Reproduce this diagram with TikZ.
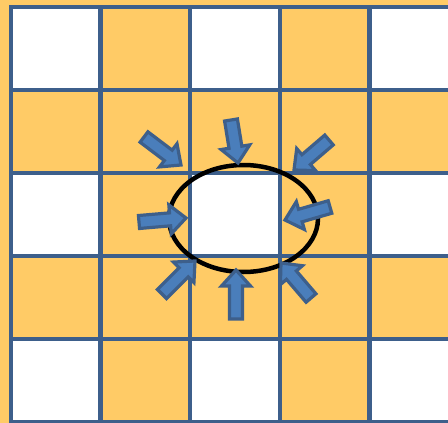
\documentclass[tikz,border=0pt]{standalone}
\usetikzlibrary{calc}

\definecolor{cellgold}{HTML}{FFCB66}
\definecolor{gridblue}{HTML}{3D5F8B}
\definecolor{arrowfill}{HTML}{4A7EBB}

% block arrow from (#1-out) to (#1-in)
\newcommand{\inarrow}[1]{%
  \coordinate (#1-base) at ($(#1-in)!16pt!(#1-out)$);
  \draw[blockarrow] ($(#1-out)!6.5pt!90:(#1-in)$)
    -- ($(#1-base)!6.5pt!90:(#1-in)$)
    -- ($(#1-base)!14.5pt!90:(#1-in)$)
    -- (#1-in)
    -- ($(#1-base)!14.5pt!-90:(#1-in)$)
    -- ($(#1-base)!6.5pt!-90:(#1-in)$)
    -- ($(#1-out)!6.5pt!-90:(#1-in)$) -- cycle;}

\begin{document}
\begin{tikzpicture}[x=1pt, y=-1pt,
    gridline/.style={gridblue, line width=4.5pt, line cap=rect},
    blockarrow/.style={draw=gridblue, fill=arrowfill, line width=3.2pt, line join=miter},
    ring/.style={draw=black, line width=4.5pt}
  ]
  \useasboundingbox (0,0) rectangle (448,423);
  \clip (0,0) rectangle (448,423);
  \fill[cellgold] (0,0) rectangle (448,423);

  % white cells
  \foreach \r in {0,2,4}
    \foreach \c in {0,2,4}
      \fill[white] ({11+89.6*\c},{7+83*\r}) rectangle ++(89.6,83);

  % grid
  \foreach \c in {0,...,4}
    \draw[gridline] ({11+89.6*\c},7) -- ++(0,430);
  \foreach \r in {0,...,5}
    \draw[gridline] (11,{7+83*\r}) -- (460,{7+83*\r});

  \coordinate (hole) at (243.5,218.5);
  \draw[ring] (hole) ellipse [x radius=74.5, y radius=53.5];

  % arrows towards the hole
  \coordinate (nw-out) at (144,137); \coordinate (nw-in) at (181,165);
  \coordinate (n-out)  at (231,120); \coordinate (n-in)  at (238,163);
  \coordinate (ne-out) at (329,140); \coordinate (ne-in) at (294,170);
  \coordinate (w-out)  at (139,222); \coordinate (w-in)  at (186,218);
  \coordinate (e-out)  at (330,207); \coordinate (e-in)  at (285,220);
  \coordinate (sw-out) at (162,294); \coordinate (sw-in) at (195,261);
  \coordinate (s-out)  at (236,319); \coordinate (s-in)  at (236,270);
  \coordinate (se-out) at (311,298); \coordinate (se-in) at (281,263);

  \foreach \d in {nw,n,ne,w,e,sw,s,se}
    {\inarrow{\d}}
\end{tikzpicture}
\end{document}
